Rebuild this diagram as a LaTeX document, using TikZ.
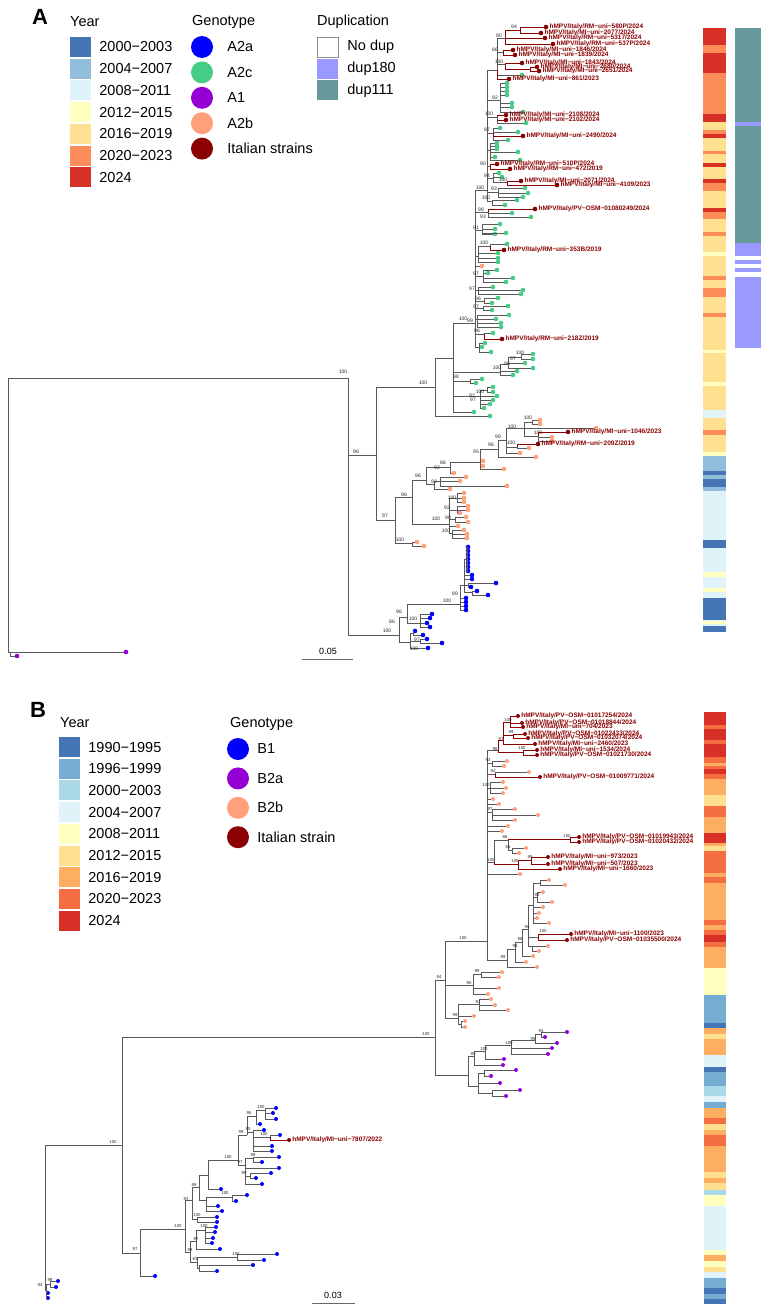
\documentclass[tikz,border=0pt]{standalone}
\usepackage{fontspec}
\setmainfont{Liberation Sans}
\usetikzlibrary{positioning}

\definecolor{yA00}{HTML}{4575B4}
\definecolor{yA04}{HTML}{91BFDB}
\definecolor{yA08}{HTML}{E0F3F8}
\definecolor{yA12}{HTML}{FFFFBF}
\definecolor{yA16}{HTML}{FEE090}
\definecolor{yA20}{HTML}{FC8D59}
\definecolor{yA24}{HTML}{D73027}
\definecolor{yB90}{HTML}{4575B4}
\definecolor{yB96}{HTML}{74ADD1}
\definecolor{yB00}{HTML}{ABD9E9}
\definecolor{yB04}{HTML}{E0F3F8}
\definecolor{yB08}{HTML}{FFFFBF}
\definecolor{yB12}{HTML}{FEE090}
\definecolor{yB16}{HTML}{FDAE61}
\definecolor{yB20}{HTML}{F46D43}
\definecolor{yB24}{HTML}{D73027}
\definecolor{gblue}{HTML}{0000FF}
\definecolor{ggreen}{HTML}{45CC85}
\definecolor{gviolet}{HTML}{9400D3}
\definecolor{gsalmon}{HTML}{FFA07A}
\definecolor{italred}{HTML}{8B0000}
\definecolor{dupone}{HTML}{9999FF}
\definecolor{duptwo}{HTML}{669999}

\tikzset{
  br/.style={draw=black!65, line width=0.45pt},
  brit/.style={draw=italred, line width=0.45pt},
  tipdot/.style={circle, inner sep=0pt, minimum size=4.6pt, fill=#1},
  tipsm/.style={circle, inner sep=0pt, minimum size=4pt, fill=#1},
  bs/.style={font=\fontsize{5}{5}\selectfont, inner sep=0pt, text=black!85},
  bsb/.style={font=\fontsize{4.3}{4.3}\selectfont, inner sep=0pt, text=black!85},
  strain/.style={font=\fontsize{6.5}{7}\selectfont\bfseries, text=italred, inner sep=0.3pt},
  legtitle/.style={font=\fontsize{14.5}{16}\selectfont, anchor=west, inner sep=0pt},
  legtext/.style={font=\fontsize{14.5}{16}\selectfont, inner sep=0pt},
  swatch/.style={minimum width=21pt, minimum height=20pt, inner sep=0pt, fill=#1},
  gdot/.style={circle, minimum size=22pt, inner sep=0pt, fill=#1},
  panel/.style={font=\fontsize{22}{24}\selectfont\bfseries, inner sep=0pt},
  scaletext/.style={font=\fontsize{9}{9}\selectfont, inner sep=0pt},
}

\begin{document}
\begin{tikzpicture}[x=1pt,y=-1pt]
\useasboundingbox (0,0) rectangle (768,1311);
\fill[white] (0,0) rectangle (768,1311);

% ---------------- legend A
\node[panel] (pA) at (40,17) {A};
\node[legtitle] (yearA) at (70,22) {Year};
\node[swatch=yA00] (kA1) at (80.5,47) {};
\node[swatch=yA04, below=1.3pt of kA1] (kA2) {};
\node[swatch=yA08, below=1.3pt of kA2] (kA3) {};
\node[swatch=yA12, below=1.3pt of kA3] (kA4) {};
\node[swatch=yA16, below=1.3pt of kA4] (kA5) {};
\node[swatch=yA20, below=1.3pt of kA5] (kA6) {};
\node[swatch=yA24, below=1.3pt of kA6] (kA7) {};
\node[legtext, right=8pt of kA1] (lA1) {2000−2003};
\node[legtext, right=8pt of kA2] (lA2) {2004−2007};
\node[legtext, right=8pt of kA3] (lA3) {2008−2011};
\node[legtext, right=8pt of kA4] (lA4) {2012−2015};
\node[legtext, right=8pt of kA5] (lA5) {2016−2019};
\node[legtext, right=8pt of kA6] (lA6) {2020−2023};
\node[legtext, right=8pt of kA7] (lA7) {2024};
\node[legtitle] (genoA) at (192,22) {Genotype};
\node[gdot=gblue] (gA1) at (202,47) {};
\node[gdot=ggreen, below=3pt of gA1] (gA2) {};
\node[gdot=gviolet, below=3pt of gA2] (gA3) {};
\node[gdot=gsalmon, below=3pt of gA3] (gA4) {};
\node[gdot=italred, below=3pt of gA4] (gA5) {};
\node[legtext, right=14pt of gA1] (mA1) {A2a};
\node[legtext, right=14pt of gA2] (mA2) {A2c};
\node[legtext, right=14pt of gA3] (mA3) {A1};
\node[legtext, right=14pt of gA4] (mA4) {A2b};
\node[legtext, right=14pt of gA5] (mA5) {Italian strains};
\node[legtitle] (dupA) at (317,22) {Duplication};
\node[swatch=white, draw=black!45, line width=0.5pt] (dA1) at (327.5,47) {};
\node[swatch=dupone, below=1.3pt of dA1] (dA2) {};
\node[swatch=duptwo, below=1.3pt of dA2] (dA3) {};
\node[legtext, right=9pt of dA1] (eA1) {No dup};
\node[legtext, right=9pt of dA2] (eA2) {dup180};
\node[legtext, right=9pt of dA3] (eA3) {dup111};

% ---------------- tree A : root and A1
\coordinate (rootA) at (8,515);
\coordinate (aOne) at (10,652);
\coordinate (a1n) at (348,378);
\coordinate (aX) at (376,455);
\node[tipdot=gviolet] (vA1) at (126,652){};
\node[tipdot=gviolet] (vA2) at (17,656){};
\draw[br] (rootA) |- (aOne) (rootA) |- (a1n);
\draw[br] (aOne) |- (vA1) (aOne) |- (vA2);

% A2c
\coordinate (aC) at (435,387);
\coordinate (aC1) at (453,358);
\coordinate (aM) at (500,372);
\coordinate (aM1) at (508,364);
\coordinate (aM2) at (521,357);
\coordinate (aQ) at (470,381);
\coordinate (aL) at (480,396);
\coordinate (aL1) at (487,390);
\draw[br] (a1n) |- (aX) (aX) |- (aC) (aC) |- (aC1);
\node[tipdot=ggreen] (cA1) at (490,416){};
\node[tipdot=ggreen] (cA2) at (513,375){};
\node[tipdot=ggreen] (cA3) at (517,371){};
\node[tipdot=ggreen] (cA4) at (525,363){};
\node[tipdot=ggreen] (cA5) at (533,368){};
\node[tipdot=ggreen] (cA6) at (533,354){};
\node[tipdot=ggreen] (cA7) at (533,359){};
\node[tipdot=ggreen] (cA8) at (482,379){};
\node[tipdot=ggreen] (cA9) at (476,383){};
\node[tipdot=ggreen] (cA10) at (497,396){};
\node[tipdot=ggreen] (cA11) at (493,400){};
\node[tipdot=ggreen] (cA12) at (490,404){};
\node[tipdot=ggreen] (cA13) at (484,408){};
\node[tipdot=ggreen] (cA14) at (493,387){};
\node[tipdot=ggreen] (cA15) at (493,392){};
\node[tipdot=ggreen] (cA16) at (474,412){};
\draw[br] (aC) |- (cA1);
\draw[br] (aC1) |- (aM) (aC1) |- (aQ) (aC1) |- (aL) (aC1) |- (cA16);
\draw[br] (aM) |- (cA2) (aM) |- (cA3) (aM) |- (aM1);
\draw[br] (aM1) |- (cA4) (aM1) |- (cA5) (aM1) |- (aM2);
\draw[br] (aM2) |- (cA6) (aM2) |- (cA7);
\draw[br] (aQ) |- (cA8) (aQ) |- (cA9);
\draw[br] (aL) |- (aL1) (aL) |- (cA10) (aL) |- (cA11) (aL) |- (cA12) (aL) |- (cA13);
\draw[br] (aL1) |- (cA14) (aL1) |- (cA15);

% A2c upper part
\coordinate (aU) at (475,323);
\coordinate (aU1) at (479,347);
\coordinate (aU2) at (484,334);
\coordinate (aU3) at (477,319);
\coordinate (aU4) at (483,308);
\coordinate (aU5) at (484,301);
\coordinate (aU6) at (478,290);
\coordinate (aU7) at (483,276);
\coordinate (aU8) at (478,256);
\coordinate (aU9) at (490,246);
\coordinate (aU10) at (482,230);
\coordinate (aU11) at (488,212);
\coordinate (aU12) at (487,190);
\draw[br] (aC1) |- (aU);
\node[tipdot=ggreen] (cA17) at (485,343){};
\node[tipdot=ggreen] (cA18) at (491,352){};
\node[tipdot=ggreen] (cA19) at (482,347){};
\node[tipdot=ggreen] (cA20) at (493,333){};
\node[tipdot=italred] (iA1) at (502,339){};
\node[tipdot=ggreen] (cA21) at (509,315){};
\node[tipdot=ggreen] (cA22) at (496,319){};
\node[tipdot=ggreen] (cA23) at (501,323){};
\node[tipdot=ggreen] (cA24) at (501,327){};
\node[tipdot=ggreen] (cA25) at (508,306){};
\node[tipdot=ggreen] (cA26) at (492,310){};
\node[tipdot=ggreen] (cA27) at (492,303){};
\node[tipdot=ggreen] (cA28) at (498,298){};
\node[tipdot=ggreen] (cA29) at (493,287){};
\node[tipdot=ggreen] (cA30) at (523,290){};
\node[tipdot=ggreen] (cA31) at (521,294){};
\node[tipdot=ggreen] (cA32) at (513,278){};
\node[tipdot=ggreen] (cA33) at (506,282){};
\node[tipdot=ggreen] (cA34) at (497,270){};
\node[tipdot=ggreen] (cA35) at (488,273){};
\node[tipdot=gsalmon] (sA0) at (482,266){};
\node[tipdot=ggreen] (cA36) at (498,253){};
\node[tipdot=ggreen] (cA37) at (498,258){};
\node[tipdot=ggreen] (cA38) at (498,262){};
\node[tipdot=ggreen] (cA39) at (507,244){};
\node[tipdot=italred] (iA2) at (504,250){};
\node[tipdot=ggreen] (cA40) at (500,224){};
\node[tipdot=ggreen] (cA41) at (495,229){};
\node[tipdot=ggreen] (cA42) at (506,233){};
\node[tipdot=ggreen] (cA43) at (495,234){};
\node[tipdot=italred] (iA3) at (535,209){};
\node[tipdot=ggreen] (cA44) at (512,213){};
\node[tipdot=ggreen] (cA45) at (531,217){};
\draw[br] (aU) |- (aU1) (aU) |- (aU2) (aU) |- (aU3) (aU) |- (aU4) (aU) |- (aU5) (aU) |- (aU6)
  (aU) |- (aU7) (aU) |- (sA0) (aU) |- (aU8) (aU) |- (aU10) (aU) |- (aU11) (aU) |- (aU12);
\draw[br] (aU1) |- (cA17) (aU1) |- (cA18) (aU1) |- (cA19);
\draw[br] (aU2) |- (cA20);
\draw[brit] (aU2) |- (iA1);
\draw[br] (aU3) |- (cA21) (aU3) |- (cA22) (aU3) |- (cA23) (aU3) |- (cA24);
\draw[br] (aU4) |- (cA25) (aU4) |- (cA26);
\draw[br] (aU5) |- (cA27) (aU5) |- (cA28);
\draw[br] (aU6) |- (cA29) (aU6) |- (cA30) (aU6) |- (cA31);
\draw[br] (aU7) |- (cA32) (aU7) |- (cA33) (aU7) |- (cA34) (aU7) |- (cA35);
\draw[br] (aU8) |- (cA36) (aU8) |- (cA37) (aU8) |- (cA38) (aU8) |- (aU9);
\draw[br] (aU9) |- (cA39);
\draw[brit] (aU9) |- (iA2);
\draw[br] (aU10) |- (cA40) (aU10) |- (cA41) (aU10) |- (cA42) (aU10) |- (cA43);
\draw[br] (aU11) |- (cA44) (aU11) |- (cA45);
\draw[brit] (aU11) |- (iA3);

% A2c top part
\coordinate (aV1) at (492,201);
\coordinate (aV2) at (498,192);
\coordinate (aV3) at (493,178);
\coordinate (aV4) at (507,182);
\coordinate (aV5) at (490,166);
\coordinate (aV6) at (490,150);
\coordinate (aV7) at (493,133);
\coordinate (aV8) at (497,117);
\coordinate (aV9) at (500,100);
\coordinate (aV10) at (497,70);
\coordinate (aW1) at (505,64);
\coordinate (aW2) at (530,69);
\coordinate (aW3) at (503,52);
\coordinate (aW4) at (505,38);
\coordinate (aW5) at (520,30);
\node[tipdot=ggreen] (cA46) at (517,200){};
\node[tipdot=ggreen] (cA47) at (505,205){};
\node[tipdot=ggreen] (cA48) at (525,188){};
\node[tipdot=ggreen] (cA49) at (528,193){};
\node[tipdot=ggreen] (cA50) at (523,197){};
\node[tipdot=ggreen] (cA51) at (499,173){};
\node[tipdot=ggreen] (cA52) at (502,177){};
\node[tipdot=italred] (iA4) at (521,181){};
\node[tipdot=italred] (iA5) at (557,185){};
\node[tipdot=italred] (iA6) at (497,164){};
\node[tipdot=italred] (iA7) at (510,169){};
\node[tipdot=ggreen] (cA53) at (518,152){};
\node[tipdot=ggreen] (cA54) at (495,157){};
\node[tipdot=ggreen] (cA55) at (520,160){};
\node[tipdot=ggreen] (cA56) at (497,143){};
\node[tipdot=ggreen] (cA57) at (497,146){};
\node[tipdot=ggreen] (cA58) at (497,149){};
\node[tipdot=ggreen] (cA59) at (500,128){};
\node[tipdot=ggreen] (cA60) at (518,132){};
\node[tipdot=italred] (iA8) at (523,136){};
\node[tipdot=ggreen] (cA61) at (508,140){};
\node[tipdot=italred] (iA9) at (506,115){};
\node[tipdot=italred] (iA10) at (506,120){};
\node[tipdot=ggreen] (cA62) at (526,123){};
\node[tipdot=ggreen] (cA63) at (512,103){};
\node[tipdot=ggreen] (cA64) at (512,107){};
\node[tipdot=ggreen] (cA65) at (523,112){};
\node[tipdot=ggreen] (cA66) at (507,83){};
\node[tipdot=ggreen] (cA67) at (507,87){};
\node[tipdot=ggreen] (cA68) at (507,91){};
\node[tipdot=ggreen] (cA69) at (507,95){};
\node[tipdot=italred] (iA11) at (509,79){};
\node[tipdot=ggreen] (cA70) at (522,75){};
\node[tipdot=italred] (iA12) at (522,63){};
\node[tipdot=italred] (iA13) at (537,67){};
\node[tipdot=italred] (iA14) at (539,71){};
\node[tipdot=italred] (iA15) at (513,50){};
\node[tipdot=italred] (iA16) at (515,55){};
\node[tipdot=italred] (iA17) at (545,38){};
\node[tipdot=italred] (iA18) at (553,44){};
\node[tipdot=italred] (iA19) at (546,27){};
\node[tipdot=italred] (iA20) at (541,33){};
\draw[br] (aU12) |- (aV1) (aU12) |- (aV2) (aU12) |- (aV3) (aU12) |- (aV5) (aU12) |- (aV6)
  (aU12) |- (aV7) (aU12) |- (aV8) (aU12) |- (aV9) (aU12) |- (aV10);
\draw[br] (aV1) |- (cA46) (aV1) |- (cA47);
\draw[br] (aV2) |- (cA48) (aV2) |- (cA49) (aV2) |- (cA50);
\draw[br] (aV3) |- (cA51) (aV3) |- (cA52) (aV3) |- (aV4);
\draw[brit] (aV4) |- (iA4) (aV4) |- (iA5);
\draw[brit] (aV5) |- (iA6) (aV5) |- (iA7);
\draw[br] (aV6) |- (cA53) (aV6) |- (cA54) (aV6) |- (cA55) (aV6) |- (cA56) (aV6) |- (cA57) (aV6) |- (cA58);
\draw[br] (aV7) |- (cA59) (aV7) |- (cA60) (aV7) |- (cA61);
\draw[brit] (aV7) |- (iA8);
\draw[brit] (aV8) |- (iA9) (aV8) |- (iA10);
\draw[br] (aV8) |- (cA62);
\draw[br] (aV9) |- (cA63) (aV9) |- (cA64) (aV9) |- (cA65) (aV9) |- (cA66) (aV9) |- (cA67) (aV9) |- (cA68) (aV9) |- (cA69);
\draw[br] (aV10) |- (cA70) (aV10) |- (aW1) (aV10) |- (aW3) (aV10) |- (aW4);
\draw[brit] (aV10) |- (iA11);
\draw[brit] (aW1) |- (iA12) (aW1) |- (aW2) (aW2) |- (iA13) (aW2) |- (iA14);
\draw[brit] (aW3) |- (iA15) (aW3) |- (iA16);
\draw[brit] (aW4) |- (aW5) (aW4) |- (iA17) (aW4) |- (iA18) (aW5) |- (iA19) (aW5) |- (iA20);

% A2b
\coordinate (aB) at (395,520);
\coordinate (aB1) at (412,497);
\coordinate (aB2) at (412,543);
\coordinate (aB3) at (426,480);
\coordinate (aB4) at (449,524);
\coordinate (aB41) at (457,498);
\coordinate (aB42) at (457,510);
\coordinate (aB43) at (455,519);
\coordinate (aB44) at (452,533);
\coordinate (aB5) at (450,467);
\coordinate (aB6) at (434,484);
\coordinate (aB7) at (440,481);
\coordinate (aB8) at (480,462);
\coordinate (aB9) at (498,449);
\coordinate (aB10) at (506,440);
\coordinate (aB11) at (524,428);
\coordinate (aB12) at (517,447);
\coordinate (aB13) at (532,422);
\coordinate (aB14) at (538,436);
\node[tipdot=gsalmon] (sA1) at (417,542){};
\node[tipdot=gsalmon] (sA2) at (424,546){};
\node[tipdot=gsalmon] (sA3) at (464,493){};
\node[tipdot=gsalmon] (sA4) at (464,498){};
\node[tipdot=gsalmon] (sA5) at (464,502){};
\node[tipdot=gsalmon] (sA6) at (468,506){};
\node[tipdot=gsalmon] (sA7) at (468,510){};
\node[tipdot=gsalmon] (sA8) at (460,513){};
\node[tipdot=gsalmon] (sA9) at (466,517){};
\node[tipdot=gsalmon] (sA10) at (468,522){};
\node[tipdot=gsalmon] (sA11) at (458,526){};
\node[tipdot=gsalmon] (sA12) at (464,530){};
\node[tipdot=gsalmon] (sA13) at (467,534){};
\node[tipdot=gsalmon] (sA14) at (467,538){};
\node[tipdot=gsalmon] (sA15) at (450,489){};
\node[tipdot=gsalmon] (sA16) at (466,477){};
\node[tipdot=gsalmon] (sA17) at (460,481){};
\node[tipdot=gsalmon] (sA18) at (507,486){};
\node[tipdot=gsalmon] (sA19) at (454,473){};
\node[tipdot=gsalmon] (sA20) at (483,461){};
\node[tipdot=gsalmon] (sA21) at (483,466){};
\node[tipdot=gsalmon] (sA22) at (504,469){};
\node[tipdot=gsalmon] (sA23) at (536,457){};
\node[tipdot=gsalmon] (sA24) at (520,453){};
\node[tipdot=italred] (iA21) at (538,444){};
\node[tipdot=gsalmon] (sA25) at (529,448){};
\node[tipdot=gsalmon] (sA26) at (596,428){};
\node[tipdot=gsalmon] (sA27) at (540,420){};
\node[tipdot=gsalmon] (sA28) at (540,424){};
\node[tipdot=italred] (iA22) at (568,432){};
\node[tipdot=gsalmon] (sA29) at (552,437){};
\node[tipdot=gsalmon] (sA30) at (552,441){};
\draw[br] (aX) |- (aB) (aB) |- (aB1) (aB) |- (aB2) (aB2) |- (sA1) (aB2) |- (sA2);
\draw[br] (aB1) |- (aB3) (aB1) |- (aB4);
\draw[br] (aB4) |- (aB41) (aB4) |- (aB42) (aB4) |- (aB43) (aB4) |- (sA11) (aB4) |- (aB44);
\draw[br] (aB41) |- (sA3) (aB41) |- (sA4) (aB41) |- (sA5);
\draw[br] (aB42) |- (sA6) (aB42) |- (sA7) (aB42) |- (sA8);
\draw[br] (aB43) |- (sA9) (aB43) |- (sA10);
\draw[br] (aB44) |- (sA12) (aB44) |- (sA13) (aB44) |- (sA14);
\draw[br] (aB3) |- (aB5) (aB3) |- (aB6) (aB6) |- (aB7) (aB6) |- (sA15);
\draw[br] (aB7) |- (sA16) (aB7) |- (sA17) (aB7) |- (sA18);
\draw[br] (aB5) |- (aB8) (aB5) |- (sA19);
\draw[br] (aB8) |- (aB9) (aB8) |- (sA20) (aB8) |- (sA21) (aB8) |- (sA22);
\draw[br] (aB9) |- (sA23) (aB9) |- (aB10);
\draw[br] (aB10) |- (aB11) (aB10) |- (aB12) (aB10) |- (sA24);
\draw[br] (aB12) |- (sA25);
\draw[brit] (aB12) |- (iA21);
\draw[br] (aB11) |- (aB13) (aB11) |- (sA26) (aB11) |- (aB14);
\draw[br] (aB13) |- (sA27) (aB13) |- (sA28);
\draw[br] (aB14) |- (sA29) (aB14) |- (sA30);
\draw[brit] (aB14) |- (iA22);

% A2a
\coordinate (aBl) at (399,635);
\coordinate (aBa) at (407,617);
\coordinate (aBb) at (410,642);
\coordinate (aBc) at (460,604);
\coordinate (aBd) at (420,623);
\coordinate (aBe) at (464,585);
\coordinate (aBf) at (467,559);
\coordinate (aBg) at (468,585);
\coordinate (aBh) at (472,592);
\coordinate (aBi) at (413,633);
\coordinate (aBj) at (420,641);
\node[tipdot=gblue] (uA1) at (466,598){};
\node[tipdot=gblue] (uA2) at (466,602){};
\node[tipdot=gblue] (uA3) at (466,606){};
\node[tipdot=gblue] (uA4) at (466,610){};
\node[tipdot=gblue] (uA5) at (472,575){};
\node[tipdot=gblue] (uA6) at (472,579){};
\node[tipdot=gblue] (uA7) at (468,547){};
\node[tipdot=gblue] (uA8) at (468,551){};
\node[tipdot=gblue] (uA9) at (468,555){};
\node[tipdot=gblue] (uA10) at (468,559){};
\node[tipdot=gblue] (uA11) at (468,563){};
\node[tipdot=gblue] (uA12) at (468,567){};
\node[tipdot=gblue] (uA13) at (468,571){};
\node[tipdot=gblue] (uA14) at (496,583){};
\node[tipdot=gblue] (uA15) at (471,587){};
\node[tipdot=gblue] (uA16) at (477,591){};
\node[tipdot=gblue] (uA17) at (488,595){};
\node[tipdot=gblue] (uA18) at (427,623){};
\node[tipdot=gblue] (uA19) at (430,618){};
\node[tipdot=gblue] (uA20) at (432,614){};
\node[tipdot=gblue] (uA21) at (430,627){};
\node[tipdot=gblue] (uA22) at (415,631){};
\node[tipdot=gblue] (uA23) at (423,635){};
\node[tipdot=gblue] (uA24) at (427,639){};
\node[tipdot=gblue] (uA25) at (442,643){};
\node[tipdot=gblue] (uA26) at (428,648){};
\draw[br] (a1n) |- (aBl) (aBl) |- (aBa) (aBl) |- (aBb) (aBa) |- (aBc) (aBa) |- (aBd);
\draw[br] (aBc) |- (aBe) (aBc) |- (uA1) (aBc) |- (uA2) (aBc) |- (uA3) (aBc) |- (uA4);
\draw[br] (aBe) |- (aBf) (aBe) |- (uA5) (aBe) |- (uA6) (aBe) |- (aBg) (aBe) |- (aBh);
\draw[br] (aBf) |- (uA7) (aBf) |- (uA8) (aBf) |- (uA9) (aBf) |- (uA10) (aBf) |- (uA11) (aBf) |- (uA12) (aBf) |- (uA13);
\draw[br] (aBg) |- (uA14) (aBg) |- (uA15) (aBh) |- (uA16) (aBh) |- (uA17);
\draw[br] (aBd) |- (uA18) (aBd) |- (uA19) (aBd) |- (uA20) (aBd) |- (uA21);
\draw[br] (aBb) |- (aBi) (aBb) |- (aBj) (aBb) |- (uA26);
\draw[br] (aBi) |- (uA22) (aBi) |- (uA23) (aBj) |- (uA24) (aBj) |- (uA25);

% strain labels A
\node[strain, right=0.6pt of iA1] (lA1) {hMPV/Italy/RM−uni−218Z/2019};
\node[strain, right=0.6pt of iA2] (lA2) {hMPV/Italy/RM−uni−353B/2019};
\node[strain, right=0.6pt of iA3] (lA3) {hMPV/Italy/PV−OSM−01080249/2024};
\node[strain, right=0.6pt of iA4] (lA4) {hMPV/Italy/MI−uni−2071/2024};
\node[strain, right=0.6pt of iA5] (lA5) {hMPV/Italy/MI−uni−4109/2023};
\node[strain, right=0.6pt of iA6] (lA6) {hMPV/Italy/RM−uni−510P/2024};
\node[strain, right=0.6pt of iA7] (lA7) {hMPV/Italy/RM−uni−472/2019};
\node[strain, right=0.6pt of iA8] (lA8) {hMPV/Italy/MI−uni−2490/2024};
\node[strain, right=0.6pt of iA9] (lA9) {hMPV/Italy/MI−uni−2108/2024};
\node[strain, right=0.6pt of iA10] (lA10) {hMPV/Italy/MI−uni−2102/2024};
\node[strain, right=0.6pt of iA11] (lA11) {hMPV/Italy/MI−uni−861/2023};
\node[strain, right=0.6pt of iA12] (lA12) {hMPV/Italy/MI−uni−1843/2024};
\node[strain, right=0.6pt of iA13] (lA13) {hMPV/Italy/MI−uni−2680/2024};
\node[strain, right=0.6pt of iA14] (lA14) {hMPV/Italy/MI−uni−2651/2024};
\node[strain, right=0.6pt of iA15] (lA15) {hMPV/Italy/MI−uni−1846/2024};
\node[strain, right=0.6pt of iA16] (lA16) {hMPV/Italy/MI−uni−1839/2024};
\node[strain, right=0.6pt of iA17] (lA17) {hMPV/Italy/RM−uni−5317/2024};
\node[strain, right=0.6pt of iA18] (lA18) {hMPV/Italy/RM−uni−537P/2024};
\node[strain, right=0.6pt of iA19] (lA19) {hMPV/Italy/RM−uni−580P/2024};
\node[strain, right=0.6pt of iA20] (lA20) {hMPV/Italy/MI−uni−2077/2024};
\node[strain, right=0.6pt of iA21] (lA21) {hMPV/Italy/RM−uni−209Z/2019};
\node[strain, right=0.6pt of iA22] (lA22) {hMPV/Italy/MI−uni−1046/2023};

% bootstrap A
\node[bs] (bA1) at (343,372) {100};
\node[bs] (bA2) at (356,452) {96};
\node[bs] (bA3) at (385,516) {97};
\node[bs] (bA4) at (423,383) {100};
\node[bs] (bA5) at (463,319) {100};
\node[bs] (bA6) at (456,377) {98};
\node[bs] (bA7) at (520,353) {100};
\node[bs] (bA8) at (513,359) {97};
\node[bs] (bA9) at (507,364) {96};
\node[bs] (bA10) at (497,368) {100};
\node[bs] (bA11) at (480,392) {100};
\node[bs] (bA12) at (472,396) {92};
\node[bs] (bA13) at (473,400) {97};
\node[bs] (bA14) at (477,331) {96};
\node[bs] (bA15) at (470,321) {99};
\node[bs] (bA16) at (476,307) {97};
\node[bs] (bA17) at (478,299) {96};
\node[bs] (bA18) at (472,289) {97};
\node[bs] (bA19) at (476,274) {97};
\node[bs] (bA20) at (484,243) {100};
\node[bs] (bA21) at (476,228) {91};
\node[bs] (bA22) at (481,210) {98};
\node[bs] (bA23) at (483,217) {93};
\node[bs] (bA24) at (486,198) {100};
\node[bs] (bA25) at (480,188) {100};
\node[bs] (bA26) at (494,189) {93};
\node[bs] (bA27) at (487,176) {94};
\node[bs] (bA28) at (503,180) {100};
\node[bs] (bA29) at (483,164) {90};
\node[bs] (bA30) at (487,130) {87};
\node[bs] (bA31) at (489,114) {100};
\node[bs] (bA32) at (495,98) {92};
\node[bs] (bA33) at (499,62) {100};
\node[bs] (bA34) at (495,50) {86};
\node[bs] (bA35) at (499,36) {90};
\node[bs] (bA36) at (514,27) {94};
\node[bs] (bA37) at (404,495) {96};
\node[bs] (bA38) at (418,476) {96};
\node[bs] (bA39) at (443,463) {86};
\node[bs] (bA40) at (437,468) {92};
\node[bs] (bA41) at (434,482) {92};
\node[bs] (bA42) at (476,452) {95};
\node[bs] (bA43) at (491,445) {96};
\node[bs] (bA44) at (498,437) {99};
\node[bs] (bA45) at (511,443) {100};
\node[bs] (bA46) at (512,427) {100};
\node[bs] (bA47) at (528,418) {100};
\node[bs] (bA48) at (538,433) {100};
\node[bs] (bA49) at (436,519) {100};
\node[bs] (bA50) at (452,498) {100};
\node[bs] (bA51) at (447,508) {92};
\node[bs] (bA52) at (448,518) {90};
\node[bs] (bA53) at (446,531) {100};
\node[bs] (bA54) at (400,540) {100};
\node[bs] (bA55) at (387,631) {100};
\node[bs] (bA56) at (399,612) {96};
\node[bs] (bA57) at (392,622) {86};
\node[bs] (bA58) at (413,619) {100};
\node[bs] (bA59) at (417,640) {97};
\node[bs] (bA60) at (414,649) {100};
\node[bs] (bA61) at (447,601) {100};
\node[bs] (bA62) at (455,594) {89};

% scale bar A
\coordinate (sA1) at (302,659);
\coordinate (sA2) at (353,659);
\draw[black!60, line width=0.6pt] (sA1) -- (sA2);
\node[scaletext] (sAt) at (328,651) {0.05};

% year and duplication bars A
\fill[yA24] (703,28) rectangle (726,45);
\fill[yA20] (703,45) rectangle (726,53);
\fill[yA24] (703,53) rectangle (726,73);
\fill[yA20] (703,73) rectangle (726,114);
\fill[yA24] (703,114) rectangle (726,122);
\fill[yA16] (703,122) rectangle (726,456);
\fill[yA20] (703,130) rectangle (726,134);
\fill[yA24] (703,134) rectangle (726,138);
\fill[yA20] (703,151) rectangle (726,154);
\fill[yA24] (703,163) rectangle (726,167);
\fill[yA24] (703,179) rectangle (726,183);
\fill[yA20] (703,183) rectangle (726,191);
\fill[yA24] (703,208) rectangle (726,212);
\fill[yA20] (703,212) rectangle (726,219);
\fill[yA20] (703,232) rectangle (726,236);
\fill[yA12] (703,252) rectangle (726,256);
\fill[yA20] (703,276) rectangle (726,280);
\fill[yA20] (703,288) rectangle (726,297);
\fill[yA20] (703,313) rectangle (726,317);
\fill[yA12] (703,350) rectangle (726,353);
\fill[yA12] (703,382) rectangle (726,386);
\fill[yA08] (703,410) rectangle (726,418);
\fill[yA20] (703,430) rectangle (726,435);
\fill[yA12] (703,452) rectangle (726,456);
\fill[yA04] (703,456) rectangle (726,491);
\fill[yA00] (703,471) rectangle (726,475);
\fill[yA00] (703,479) rectangle (726,487);
\fill[yA08] (703,491) rectangle (726,632);
\fill[yA00] (703,540) rectangle (726,548);
\fill[yA12] (703,572) rectangle (726,577);
\fill[yA12] (703,588) rectangle (726,592);
\fill[yA00] (703,598) rectangle (726,620);
\fill[yA12] (703,621) rectangle (726,624);
\fill[yA00] (703,626) rectangle (726,632);
\fill[duptwo] (735,28) rectangle (761,122);
\fill[dupone] (735,122) rectangle (761,126);
\fill[duptwo] (735,126) rectangle (761,243);
\fill[dupone] (735,243) rectangle (761,256);
\fill[dupone] (735,260) rectangle (761,264);
\fill[dupone] (735,268) rectangle (761,272);
\fill[dupone] (735,277) rectangle (761,348);

% ---------------- legend B
\node[panel] (pB) at (38,710) {B};
\node[legtitle] (yearB) at (60,723) {Year};
\node[swatch=yB90] (kB1) at (69.5,747) {};
\node[swatch=yB96, below=1.3pt of kB1] (kB2) {};
\node[swatch=yB00, below=1.3pt of kB2] (kB3) {};
\node[swatch=yB04, below=1.3pt of kB3] (kB4) {};
\node[swatch=yB08, below=1.3pt of kB4] (kB5) {};
\node[swatch=yB12, below=1.3pt of kB5] (kB6) {};
\node[swatch=yB16, below=1.3pt of kB6] (kB7) {};
\node[swatch=yB20, below=1.3pt of kB7] (kB8) {};
\node[swatch=yB24, below=1.3pt of kB8] (kB9) {};
\node[legtext, right=8pt of kB1] (lB1) {1990−1995};
\node[legtext, right=8pt of kB2] (lB2) {1996−1999};
\node[legtext, right=8pt of kB3] (lB3) {2000−2003};
\node[legtext, right=8pt of kB4] (lB4) {2004−2007};
\node[legtext, right=8pt of kB5] (lB5) {2008−2011};
\node[legtext, right=8pt of kB6] (lB6) {2012−2015};
\node[legtext, right=8pt of kB7] (lB7) {2016−2019};
\node[legtext, right=8pt of kB8] (lB8) {2020−2023};
\node[legtext, right=8pt of kB9] (lB9) {2024};
\node[legtitle] (genoB) at (230,724) {Genotype};
\node[gdot=gblue] (gB1) at (238,749) {};
\node[gdot=gviolet, below=7pt of gB1] (gB2) {};
\node[gdot=gsalmon, below=7pt of gB2] (gB3) {};
\node[gdot=italred, below=7pt of gB3] (gB4) {};
\node[legtext, right=8pt of gB1] (mB1) {B1};
\node[legtext, right=8pt of gB2] (mB2) {B2a};
\node[legtext, right=8pt of gB3] (mB3) {B2b};
\node[legtext, right=8pt of gB4] (mB4) {Italian strain};

% ---------------- tree B : root and B1
\coordinate (rootB) at (45,1220);
\coordinate (bZ) at (46,1290);
\coordinate (bZ1) at (50,1284);
\coordinate (b1n) at (122,1145);
\coordinate (bC) at (140,1253);
\coordinate (bD) at (185,1229);
\coordinate (bE1) at (192,1200);
\coordinate (bE2) at (190,1252);
\coordinate (bE3) at (199,1187);
\coordinate (bE4) at (197,1219);
\coordinate (bE5) at (208,1175);
\coordinate (bE6) at (206,1200);
\coordinate (bE7) at (238,1160);
\coordinate (bE8) at (232,1197);
\coordinate (bE9) at (247,1135);
\coordinate (bE10) at (245,1165);
\coordinate (bE11) at (256,1116);
\coordinate (bE12) at (265,1110);
\coordinate (bE13) at (253,1132);
\coordinate (bE14) at (270,1137);
\coordinate (bE15) at (253,1158);
\coordinate (bE16) at (250,1176);
\coordinate (bE17) at (196,1241);
\coordinate (bE18) at (205,1230);
\coordinate (bE19) at (197,1262);
\coordinate (bE20) at (237,1257);
\coordinate (bE21) at (199,1268);
\node[tipsm=gblue] (uB1) at (58,1281){};
\node[tipsm=gblue] (uB2) at (56,1287){};
\node[tipsm=gblue] (uB3) at (48,1293){};
\node[tipsm=gblue] (uB4) at (48,1298){};
\node[tipsm=gblue] (uB5) at (155,1276){};
\node[tipsm=gblue] (uB6) at (217,1217){};
\node[tipsm=gblue] (uB7) at (217,1222){};
\node[tipsm=gblue] (uB8) at (221,1189){};
\node[tipsm=gblue] (uB9) at (218,1206){};
\node[tipsm=gblue] (uB10) at (222,1211){};
\node[tipsm=gblue] (uB11) at (247,1195){};
\node[tipsm=gblue] (uB12) at (236,1201){};
\node[tipsm=gblue] (uB13) at (260,1124){};
\node[tipsm=gblue] (uB14) at (276,1108){};
\node[tipsm=gblue] (uB15) at (273,1113){};
\node[tipsm=gblue] (uB16) at (276,1119){};
\node[tipsm=gblue] (uB17) at (264,1130){};
\node[tipsm=gblue] (uB18) at (272,1146){};
\node[tipsm=gblue] (uB19) at (272,1151){};
\node[tipsm=gblue] (uB20) at (280,1135){};
\node[tipsm=italred] (iB1) at (289,1140){};
\node[tipsm=gblue] (uB21) at (279,1168){};
\node[tipsm=gblue] (uB22) at (262,1184){};
\node[tipsm=gblue] (uB23) at (279,1157){};
\node[tipsm=gblue] (uB24) at (262,1162){};
\node[tipsm=gblue] (uB25) at (271,1173){};
\node[tipsm=gblue] (uB26) at (256,1178){};
\node[tipsm=gblue] (uB27) at (220,1249){};
\node[tipsm=gblue] (uB28) at (216,1227){};
\node[tipsm=gblue] (uB29) at (215,1232){};
\node[tipsm=gblue] (uB30) at (213,1238){};
\node[tipsm=gblue] (uB31) at (212,1243){};
\node[tipsm=gblue] (uB32) at (277,1254){};
\node[tipsm=gblue] (uB33) at (264,1260){};
\node[tipsm=gblue] (uB34) at (253,1265){};
\node[tipsm=gblue] (uB35) at (217,1271){};
\draw[br] (rootB) |- (b1n) (rootB) |- (bZ) (bZ) |- (bZ1) (bZ) |- (uB3) (bZ) |- (uB4) (bZ1) |- (uB1) (bZ1) |- (uB2);
\draw[br] (b1n) |- (bC) (bC) |- (bD) (bC) |- (uB5) (bD) |- (bE1) (bD) |- (bE2);
\draw[br] (bE1) |- (bE3) (bE1) |- (bE4) (bE4) |- (uB6) (bE4) |- (uB7);
\draw[br] (bE3) |- (bE5) (bE3) |- (bE6) (bE5) |- (bE7) (bE5) |- (uB8);
\draw[br] (bE6) |- (bE8) (bE6) |- (uB9) (bE6) |- (uB10) (bE8) |- (uB11) (bE8) |- (uB12);
\draw[br] (bE7) |- (bE9) (bE7) |- (bE10) (bE9) |- (bE11) (bE9) |- (bE13);
\draw[br] (bE11) |- (bE12) (bE11) |- (uB13) (bE12) |- (uB14) (bE12) |- (uB15) (bE12) |- (uB16);
\draw[br] (bE13) |- (uB17) (bE13) |- (bE14) (bE13) |- (uB18) (bE13) |- (uB19) (bE14) |- (uB20);
\draw[brit] (bE14) |- (iB1);
\draw[br] (bE10) |- (bE15) (bE10) |- (uB21) (bE10) |- (bE16) (bE10) |- (uB22);
\draw[br] (bE15) |- (uB23) (bE15) |- (uB24) (bE16) |- (uB25) (bE16) |- (uB26);
\draw[br] (bE2) |- (bE17) (bE2) |- (bE19) (bE17) |- (bE18) (bE17) |- (uB27);
\draw[br] (bE18) |- (uB28) (bE18) |- (uB29) (bE18) |- (uB30) (bE18) |- (uB31);
\draw[br] (bE19) |- (bE20) (bE19) |- (bE21) (bE20) |- (uB32) (bE20) |- (uB33) (bE21) |- (uB34) (bE21) |- (uB35);

% B2a
\coordinate (b2n) at (435,1037);
\coordinate (bAA) at (468,1075);
\coordinate (bA1) at (474,1056);
\coordinate (bA2) at (478,1086);
\coordinate (bA3) at (485,1051);
\coordinate (bA4) at (511,1045);
\coordinate (bA5) at (535,1040);
\coordinate (bA6) at (541,1034);
\coordinate (bA7) at (484,1073);
\coordinate (bA8) at (492,1093);
\node[tipsm=gviolet] (vB1) at (567,1032){};
\node[tipsm=gviolet] (vB2) at (545,1037){};
\node[tipsm=gviolet] (vB3) at (557,1043){};
\node[tipsm=gviolet] (vB4) at (552,1048){};
\node[tipsm=gviolet] (vB5) at (548,1054){};
\node[tipsm=gviolet] (vB6) at (504,1059){};
\node[tipsm=gviolet] (vB7) at (503,1065){};
\node[tipsm=gviolet] (vB8) at (516,1070){};
\node[tipsm=gviolet] (vB9) at (491,1076){};
\node[tipsm=gviolet] (vB10) at (500,1083){};
\node[tipsm=gviolet] (vB11) at (520,1090){};
\node[tipsm=gviolet] (vB12) at (506,1096){};
\draw[br] (b1n) |- (b2n) (b2n) |- (bAA) (bAA) |- (bA1) (bAA) |- (bA2);
\draw[br] (bA1) |- (bA3) (bA1) |- (vB7) (bA3) |- (bA4) (bA3) |- (vB6);
\draw[br] (bA4) |- (bA5) (bA4) |- (vB4) (bA4) |- (vB5) (bA5) |- (bA6) (bA5) |- (vB3) (bA6) |- (vB1) (bA6) |- (vB2);
\draw[br] (bA2) |- (bA7) (bA2) |- (vB10) (bA2) |- (bA8) (bA7) |- (vB8) (bA7) |- (vB9) (bA8) |- (vB11) (bA8) |- (vB12);

% B2b lower part
\coordinate (bBB) at (445,980);
\coordinate (bBb2) at (473,985);
\coordinate (bBb21) at (481,974);
\coordinate (bBb3) at (458,1018);
\coordinate (bBb31) at (479,1004);
\coordinate (bBb33) at (461,1024);
\coordinate (bS) at (487,941);
\coordinate (bT1) at (507,960);
\coordinate (bT2) at (515,949);
\coordinate (bT3) at (522,942);
\coordinate (bT4) at (528,929);
\coordinate (bT5) at (538,937);
\coordinate (bT6) at (533,905);
\coordinate (bT8) at (532,946);
\coordinate (bT9) at (537,897);
\coordinate (bT10) at (540,883);
\node[tipsm=gsalmon] (sB1) at (502,972){};
\node[tipsm=gsalmon] (sB2) at (499,977){};
\node[tipsm=gsalmon] (sB3) at (499,988){};
\node[tipsm=gsalmon] (sB4) at (488,994){};
\node[tipsm=gsalmon] (sB5) at (491,999){};
\node[tipsm=gsalmon] (sB6) at (495,1005){};
\node[tipsm=gsalmon] (sB7) at (508,1010){};
\node[tipsm=gsalmon] (sB8) at (465,1021){};
\node[tipsm=gsalmon] (sB9) at (465,1027){};
\node[tipsm=gsalmon] (sB10) at (474,1016){};
\node[tipsm=gsalmon] (sB11) at (537,967){};
\node[tipsm=gsalmon] (sB12) at (526,962){};
\node[tipsm=gsalmon] (sB13) at (533,956){};
\node[tipsm=italred] (iB2) at (571,934){};
\node[tipsm=italred] (iB3) at (567,940){};
\node[tipsm=gsalmon] (sB14) at (548,946){};
\node[tipsm=gsalmon] (sB15) at (539,951){};
\node[tipsm=gsalmon] (sB16) at (543,892){};
\node[tipsm=gsalmon] (sB17) at (552,902){};
\node[tipsm=gsalmon] (sB18) at (543,907){};
\node[tipsm=gsalmon] (sB19) at (539,913){};
\node[tipsm=gsalmon] (sB20) at (537,918){};
\node[tipsm=gsalmon] (sB21) at (549,923){};
\node[tipsm=gsalmon] (sB22) at (549,880){};
\node[tipsm=gsalmon] (sB23) at (565,885){};
\draw[br] (b2n) |- (bBB) (bBB) |- (bS) (bBB) |- (bBb2) (bBB) |- (bBb3);
\draw[br] (bBb2) |- (bBb21) (bBb2) |- (sB3) (bBb2) |- (sB4) (bBb21) |- (sB1) (bBb21) |- (sB2);
\draw[br] (bBb3) |- (bBb31) (bBb3) |- (bBb33) (bBb3) |- (sB10) (bBb31) |- (sB5) (bBb31) |- (sB6) (bBb31) |- (sB7);
\draw[br] (bBb33) |- (sB8) (bBb33) |- (sB9);
\draw[br] (bS) |- (bT1) (bT1) |- (bT2) (bT1) |- (sB11) (bT2) |- (bT3) (bT2) |- (sB12) (bT3) |- (bT4) (bT3) |- (sB13);
\draw[br] (bT4) |- (bT5) (bT4) |- (bT8) (bT4) |- (bT6) (bT8) |- (sB14) (bT8) |- (sB15);
\draw[brit] (bT5) |- (iB2) (bT5) |- (iB3);
\draw[br] (bT6) |- (bT9) (bT6) |- (bT10) (bT6) |- (sB18) (bT6) |- (sB19) (bT6) |- (sB20) (bT6) |- (sB21);
\draw[br] (bT9) |- (sB16) (bT9) |- (sB17) (bT10) |- (sB22) (bT10) |- (sB23);

% B2b upper part
\coordinate (bS1) at (494,862);
\coordinate (bS3) at (508,840);
\coordinate (bS4) at (518,864);
\coordinate (bS5) at (531,860);
\coordinate (bS6) at (570,839);
\coordinate (bS7) at (512,850);
\coordinate (bS8) at (492,812);
\coordinate (bS9) at (490,788);
\coordinate (bS10) at (495,774);
\coordinate (bS11) at (492,763);
\coordinate (bS12) at (498,750);
\coordinate (bS13) at (503,740);
\coordinate (bS14) at (523,752);
\coordinate (bS15) at (513,735);
\coordinate (bS16) at (510,722);
\node[tipsm=gsalmon] (sB24) at (520,874){};
\node[tipsm=italred] (iB4) at (579,837){};
\node[tipsm=italred] (iB5) at (579,842){};
\node[tipsm=gsalmon] (sB26) at (526,848){};
\node[tipsm=gsalmon] (sB27) at (519,853){};
\node[tipsm=italred] (iB6) at (560,869){};
\node[tipsm=italred] (iB7) at (548,857){};
\node[tipsm=italred] (iB8) at (548,864){};
\node[tipsm=gsalmon] (sB28) at (508,826){};
\node[tipsm=gsalmon] (sB29) at (502,831){};
\node[tipsm=gsalmon] (sB30) at (515,809){};
\node[tipsm=gsalmon] (sB31) at (538,815){};
\node[tipsm=gsalmon] (sB32) at (515,820){};
\node[tipsm=gsalmon] (sB33) at (493,799){};
\node[tipsm=gsalmon] (sB34) at (499,804){};
\node[tipsm=gsalmon] (sB35) at (503,782){};
\node[tipsm=gsalmon] (sB36) at (506,788){};
\node[tipsm=gsalmon] (sB37) at (503,793){};
\node[tipsm=gsalmon] (sB38) at (529,772){};
\node[tipsm=italred] (iB9) at (540,777){};
\node[tipsm=gsalmon] (sB39) at (507,761){};
\node[tipsm=gsalmon] (sB40) at (504,766){};
\node[tipsm=italred] (iB10) at (537,750){};
\node[tipsm=italred] (iB11) at (537,755){};
\node[tipsm=italred] (iB12) at (535,744){};
\node[tipsm=italred] (iB13) at (525,734){};
\node[tipsm=italred] (iB14) at (528,738){};
\node[tipsm=italred] (iB15) at (522,723){};
\node[tipsm=italred] (iB16) at (523,727){};
\node[tipsm=italred] (iB17) at (518,716){};
\draw[br] (bS) |- (bS1) (bS) |- (sB24) (bS) |- (sB28) (bS) |- (sB29) (bS) |- (bS8) (bS) |- (sB33) (bS) |- (sB34)
  (bS) |- (bS9) (bS) |- (bS10) (bS) |- (bS11) (bS) |- (bS12);
\draw[br] (bS1) |- (bS3) (bS3) |- (bS7) (bS7) |- (sB26) (bS7) |- (sB27);
\draw[brit] (bS1) |- (bS4) (bS3) |- (bS6) (bS6) |- (iB4) (bS6) |- (iB5) (bS4) |- (bS5) (bS4) |- (iB6) (bS5) |- (iB7) (bS5) |- (iB8);
\draw[br] (bS8) |- (sB30) (bS8) |- (sB31) (bS8) |- (sB32);
\draw[br] (bS9) |- (sB35) (bS9) |- (sB36) (bS9) |- (sB37);
\draw[br] (bS10) |- (sB38) (bS11) |- (sB39) (bS11) |- (sB40);
\draw[brit] (bS10) |- (iB9);
\draw[brit] (bS12) |- (bS13) (bS12) |- (bS14) (bS14) |- (iB10) (bS14) |- (iB11) (bS13) |- (iB12) (bS13) |- (bS15) (bS13) |- (bS16);
\draw[brit] (bS15) |- (iB13) (bS15) |- (iB14) (bS16) |- (iB15) (bS16) |- (iB16) (bS16) |- (iB17);

% strain labels B
\node[strain, right=0.6pt of iB1] (lB1) {hMPV/Italy/MI−uni−7807/2022};
\node[strain, right=0.6pt of iB2] (lB2) {hMPV/Italy/MI−uni−1100/2023};
\node[strain, right=0.6pt of iB3] (lB3) {hMPV/Italy/PV−OSM−01035500/2024};
\node[strain, right=0.6pt of iB4] (lB4) {hMPV/Italy/PV−OSM−01019943/2024};
\node[strain, right=0.6pt of iB5] (lB5) {hMPV/Italy/PV−OSM−01020432/2024};
\node[strain, right=0.6pt of iB6] (lB6) {hMPV/Italy/MI−uni−1660/2023};
\node[strain, right=0.6pt of iB7] (lB7) {hMPV/Italy/MI−uni−973/2023};
\node[strain, right=0.6pt of iB8] (lB8) {hMPV/Italy/MI−uni−507/2023};
\node[strain, right=0.6pt of iB9] (lB9) {hMPV/Italy/PV−OSM−01009771/2024};
\node[strain, right=0.6pt of iB10] (lB10) {hMPV/Italy/MI−uni−1534/2024};
\node[strain, right=0.6pt of iB11] (lB11) {hMPV/Italy/PV−OSM−01021730/2024};
\node[strain, right=0.6pt of iB12] (lB12) {hMPV/Italy/MI−uni−2460/2023};
\node[strain, right=0.6pt of iB13] (lB13) {hMPV/Italy/PV−OSM−01022433/2024};
\node[strain, right=0.6pt of iB14] (lB14) {hMPV/Italy/PV−OSM−01032074/2024};
\node[strain, right=0.6pt of iB15] (lB15) {hMPV/Italy/PV−OSM−01018844/2024};
\node[strain, right=0.6pt of iB16] (lB16) {hMPV/Italy/MI−uni−704/2023};
\node[strain, right=0.6pt of iB17] (lB17) {hMPV/Italy/PV−OSM−01017254/2024};

% bootstrap B
\node[bsb] (bB1) at (113,1142) {100};
\node[bsb] (bB2) at (135,1249) {97};
\node[bsb] (bB3) at (40,1285) {94};
\node[bsb] (bB4) at (50,1280) {99};
\node[bsb] (bB5) at (178,1226) {100};
\node[bsb] (bB6) at (186,1199) {93};
\node[bsb] (bB7) at (194,1185) {98};
\node[bsb] (bB8) at (197,1215) {100};
\node[bsb] (bB9) at (228,1157) {100};
\node[bsb] (bB10) at (225,1193) {100};
\node[bsb] (bB11) at (241,1132) {99};
\node[bsb] (bB12) at (249,1113) {95};
\node[bsb] (bB13) at (261,1107) {100};
\node[bsb] (bB14) at (264,1134) {100};
\node[bsb] (bB15) at (248,1129) {95};
\node[bsb] (bB16) at (240,1162) {97};
\node[bsb] (bB17) at (244,1173) {99};
\node[bsb] (bB18) at (253,1155) {98};
\node[bsb] (bB19) at (196,1239) {97};
\node[bsb] (bB20) at (204,1226) {100};
\node[bsb] (bB21) at (190,1250) {98};
\node[bsb] (bB22) at (195,1259) {83};
\node[bsb] (bB23) at (236,1254) {100};
\node[bsb] (bB24) at (426,1034) {100};
\node[bsb] (bB25) at (439,977) {94};
\node[bsb] (bB26) at (463,938) {100};
\node[bsb] (bB27) at (503,957) {99};
\node[bsb] (bB28) at (515,946) {99};
\node[bsb] (bB29) at (520,939) {98};
\node[bsb] (bB30) at (527,927) {99};
\node[bsb] (bB31) at (543,931) {100};
\node[bsb] (bB32) at (537,895) {99};
\node[bsb] (bB33) at (477,971) {99};
\node[bsb] (bB34) at (469,983) {90};
\node[bsb] (bB35) at (455,1015) {99};
\node[bsb] (bB36) at (478,1002) {91};
\node[bsb] (bB37) at (541,1031) {93};
\node[bsb] (bB38) at (533,1039) {99};
\node[bsb] (bB39) at (509,1043) {100};
\node[bsb] (bB40) at (484,1049) {100};
\node[bsb] (bB41) at (473,1054) {95};
\node[bsb] (bB42) at (508,720) {100};
\node[bsb] (bB43) at (511,732) {99};
\node[bsb] (bB44) at (501,739) {97};
\node[bsb] (bB45) at (495,749) {98};
\node[bsb] (bB46) at (522,748) {100};
\node[bsb] (bB47) at (488,760) {93};
\node[bsb] (bB48) at (493,771) {94};
\node[bsb] (bB49) at (486,785) {100};
\node[bsb] (bB50) at (490,809) {97};
\node[bsb] (bB51) at (505,837) {86};
\node[bsb] (bB52) at (567,836) {100};
\node[bsb] (bB53) at (508,847) {66};
\node[bsb] (bB54) at (530,857) {99};
\node[bsb] (bB55) at (515,861) {100};
\node[bsb] (bB56) at (491,860) {100};

% scale bar B
\coordinate (sB1a) at (312,1303);
\coordinate (sB2a) at (355,1303);
\draw[black!60, line width=0.6pt] (sB1a) -- (sB2a);
\node[scaletext] (sBt) at (333,1295) {0.03};

% year bar B
\fill[yB16] (704,712) rectangle (726,1304);
\fill[yB24] (704,712) rectangle (726,725);
\fill[yB20] (704,725) rectangle (726,729);
\fill[yB24] (704,729) rectangle (726,740);
\fill[yB20] (704,740) rectangle (726,744);
\fill[yB24] (704,744) rectangle (726,757);
\fill[yB20] (704,757) rectangle (726,763);
\fill[yB20] (704,766) rectangle (726,769);
\fill[yB24] (704,769) rectangle (726,774);
\fill[yB20] (704,774) rectangle (726,779);
\fill[yB12] (704,795) rectangle (726,806);
\fill[yB20] (704,806) rectangle (726,817);
\fill[yB24] (704,833) rectangle (726,843);
\fill[yB12] (704,846) rectangle (726,851);
\fill[yB20] (704,851) rectangle (726,873);
\fill[yB20] (704,877) rectangle (726,883);
\fill[yB20] (704,920) rectangle (726,925);
\fill[yB20] (704,930) rectangle (726,935);
\fill[yB24] (704,935) rectangle (726,942);
\fill[yB20] (704,942) rectangle (726,947);
\fill[yB08] (704,968) rectangle (726,995);
\fill[yB96] (704,995) rectangle (726,1023);
\fill[yB90] (704,1023) rectangle (726,1028);
\fill[yB12] (704,1034) rectangle (726,1039);
\fill[yB04] (704,1055) rectangle (726,1067);
\fill[yB90] (704,1067) rectangle (726,1072);
\fill[yB96] (704,1072) rectangle (726,1086);
\fill[yB00] (704,1086) rectangle (726,1096);
\fill[yB04] (704,1096) rectangle (726,1102);
\fill[yB96] (704,1102) rectangle (726,1108);
\fill[yB20] (704,1118) rectangle (726,1124);
\fill[yB12] (704,1124) rectangle (726,1130);
\fill[yB20] (704,1135) rectangle (726,1146);
\fill[yB12] (704,1172) rectangle (726,1178);
\fill[yB12] (704,1183) rectangle (726,1190);
\fill[yB00] (704,1190) rectangle (726,1195);
\fill[yB08] (704,1195) rectangle (726,1206);
\fill[yB04] (704,1206) rectangle (726,1250);
\fill[yB08] (704,1250) rectangle (726,1255);
\fill[yB08] (704,1261) rectangle (726,1267);
\fill[yB12] (704,1267) rectangle (726,1272);
\fill[yB04] (704,1272) rectangle (726,1278);
\fill[yB96] (704,1278) rectangle (726,1288);
\fill[yB90] (704,1288) rectangle (726,1294);
\fill[yB96] (704,1294) rectangle (726,1299);
\fill[yB90] (704,1299) rectangle (726,1304);
\end{tikzpicture}
\end{document}
